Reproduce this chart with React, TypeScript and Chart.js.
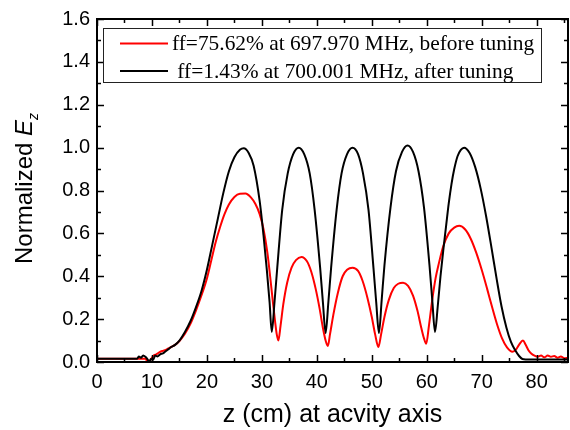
import React, { useEffect, useRef } from "react";
import { Chart, registerables } from "chart.js";

Chart.register(...registerables);

// ---- Axis settings ----
const X_MIN = 0;
const X_MAX = 85.7;
const Y_MIN = 0;
const Y_MAX = 1.6;
const X_MAJOR = 10;
const Y_MAJOR = 0.2;
const xTickValues = [0, 10, 20, 30, 40, 50, 60, 70, 80];
const yTickValues = [0, 0.2, 0.4, 0.6, 0.8, 1.0, 1.2, 1.4, 1.6];

// ---- Labels ----
const xTitle = "z (cm) at acvity axis";
const yTitleMain = "Normalized ";
const yTitleVar = "E";
const yTitleSub = "z";
const redLabel = "ff=75.62% at 697.970 MHz, before tuning";
const blackLabel = " ff=1.43% at 700.001 MHz, after tuning";

// ---- Before tuning (red) ----
const redZ = [
  0, 8.8, 9.1, 9.4, 9.8, 10.3, 10.8, 11.4, 12.0, 12.5, 13.0, 13.5, 14.2, 15.0, 16.0, 17.0, 18.0, 19.0,
  20.0, 20.8, 21.6, 22.4, 23.2, 24.0, 25.0, 26.0, 27.0, 28.0, 28.8, 29.6, 30.3, 31.0, 31.5, 32.0, 32.4,
  32.7, 33.0, 33.4, 33.9, 34.6, 35.4, 36.2, 37.2, 38.2, 39.0, 39.8, 40.5, 41.1, 41.6, 42.0, 42.4, 43.0,
  43.8, 44.7, 45.5, 46.5, 47.5, 48.3, 49.2, 50.0, 50.6, 51.2, 51.7, 52.3, 53.1, 54.0, 54.8, 55.7, 56.6,
  57.5, 58.3, 59.0, 59.5, 59.9, 60.4, 61.0, 61.6, 62.2, 63.0, 64.0, 65.0, 65.9, 67.0, 68.0, 69.0, 70.0,
  71.0, 71.9, 72.8, 73.7, 74.6, 75.6, 76.3, 76.9, 77.5, 78.0, 78.5, 79.0, 79.6, 80.2, 80.8, 81.4, 82.0,
  82.6, 83.2, 83.8, 84.4, 85.0, 85.7,
];
const redE = [
  0.015, 0.015, 0.006, 0.0, 0.012, 0.03, 0.036, 0.046, 0.052, 0.056, 0.064, 0.07, 0.08, 0.098, 0.132, 0.178, 0.24, 0.31,
  0.39, 0.475, 0.56, 0.63, 0.69, 0.735, 0.77, 0.785, 0.786, 0.768, 0.738, 0.69, 0.62, 0.51, 0.4, 0.28, 0.19,
  0.13, 0.1, 0.17, 0.27, 0.37, 0.44, 0.475, 0.49, 0.47, 0.42, 0.34, 0.25, 0.16, 0.1, 0.075, 0.13, 0.22,
  0.32, 0.4, 0.43, 0.44, 0.425, 0.38, 0.3, 0.21, 0.13, 0.07, 0.13, 0.21, 0.29, 0.345, 0.365, 0.37, 0.355,
  0.31, 0.24, 0.16, 0.11, 0.085, 0.17, 0.29, 0.39, 0.46, 0.54, 0.6, 0.627, 0.635, 0.618, 0.575, 0.51, 0.43,
  0.34, 0.255, 0.175, 0.11, 0.068, 0.048, 0.06, 0.085, 0.1, 0.08, 0.055, 0.04, 0.03, 0.025, 0.03, 0.022, 0.03,
  0.024, 0.028, 0.02, 0.026, 0.018, 0.02,
];

// ---- After tuning (black) ----
const blackZ = [
  0, 4, 7.3, 7.6, 8.0, 8.4, 8.8, 9.2, 9.5, 9.8, 10.2, 10.6, 11.0, 11.5, 12.0, 12.5, 13.0, 13.5, 14.2,
  15.0, 16.0, 17.0, 18.0, 19.0, 20.0, 21.0, 22.0, 23.0, 24.0, 25.0, 26.0, 26.7, 27.6, 28.5, 29.6, 30.3,
  30.9, 31.4, 31.8, 32.3, 32.8, 33.7, 34.7, 35.7, 36.7, 37.7, 38.7, 39.6, 40.6, 41.1, 41.6, 42.1, 42.6,
  43.6, 44.5, 45.5, 46.5, 47.5, 48.4, 49.4, 50.3, 50.8, 51.3, 51.8, 52.3, 53.4, 54.4, 55.5, 56.5, 57.5,
  58.5, 59.5, 60.5, 61.0, 61.5, 62.0, 62.5, 63.0, 63.5, 64.0, 64.5, 65.0, 65.6, 66.2, 66.8, 67.8, 68.8,
  69.8, 70.8, 71.8, 72.7, 73.6, 74.5, 75.3, 76.1, 76.8, 77.4, 78.0, 85.7,
];
const blackE = [
  0.015, 0.015, 0.015, 0.026, 0.02, 0.03, 0.024, 0.012, 0.0, 0.014, 0.01, 0.03, 0.026, 0.036, 0.04, 0.05, 0.06, 0.07, 0.08,
  0.1, 0.14, 0.19, 0.255, 0.33, 0.43, 0.55, 0.67, 0.79, 0.89, 0.955, 0.99, 0.997, 0.975, 0.915, 0.75, 0.59,
  0.43, 0.28, 0.14, 0.28, 0.44, 0.71, 0.88, 0.97, 1.0, 0.97, 0.88, 0.71, 0.44, 0.28, 0.135, 0.28, 0.44,
  0.71, 0.88, 0.97, 1.0, 0.97, 0.88, 0.71, 0.44, 0.28, 0.135, 0.29, 0.45, 0.72, 0.89, 0.98, 1.01, 0.98,
  0.89, 0.72, 0.45, 0.29, 0.14, 0.26, 0.4, 0.52, 0.63, 0.74, 0.83, 0.9, 0.96, 0.99, 1.0, 0.975, 0.91,
  0.81, 0.68, 0.53, 0.39, 0.26, 0.16, 0.095, 0.055, 0.028, 0.014, 0.012, 0.012,
];

const SANS = "'Liberation Sans', Arial, sans-serif";
const SERIF = "'Liberation Serif', 'Times New Roman', serif";

function zip(xs: number[], ys: number[]) {
  return xs.map((x, i) => ({ x, y: ys[i] }));
}

const framePlugin = {
  id: "frameTicksLegend",
  afterDraw(chart: any) {
    const { ctx, chartArea, scales } = chart;
    const { left, right, top, bottom } = chartArea;
    const xs = scales.x;
    const ys = scales.y;
    ctx.save();
    ctx.strokeStyle = "#000";
    ctx.lineWidth = 2;
    ctx.strokeRect(left, top, right - left, bottom - top);

    ctx.lineWidth = 1.5;
    ctx.beginPath();
    const nx = Math.floor((X_MAX - X_MIN) / (X_MAJOR / 2) + 1e-9);
    for (let i = 0; i <= nx; i++) {
      const v = X_MIN + (i * X_MAJOR) / 2;
      const px = Math.round(xs.getPixelForValue(v)) + 0.5;
      const len = i % 2 === 0 ? 7 : 4;
      ctx.moveTo(px, bottom);
      ctx.lineTo(px, bottom - len);
      ctx.moveTo(px, top);
      ctx.lineTo(px, top + len);
    }
    const ny = Math.round((Y_MAX - Y_MIN) / (Y_MAJOR / 2));
    for (let i = 0; i <= ny; i++) {
      const v = Y_MIN + (i * Y_MAJOR) / 2;
      const py = Math.round(ys.getPixelForValue(v)) + 0.5;
      const len = i % 2 === 0 ? 7 : 4;
      ctx.moveTo(left, py);
      ctx.lineTo(left + len, py);
      ctx.moveTo(right, py);
      ctx.lineTo(right - len, py);
    }
    ctx.stroke();

    // x title
    ctx.fillStyle = "#000";
    ctx.font = `25px ${SANS}`;
    ctx.textAlign = "center";
    ctx.textBaseline = "alphabetic";
    ctx.fillText(xTitle, (left + right) / 2, 422);

    // y title (rotated) with italic E and subscript z
    ctx.save();
    ctx.translate(32, (top + bottom) / 2 - 2);
    ctx.rotate(-Math.PI / 2);
    ctx.textAlign = "left";
    ctx.font = `24px ${SANS}`;
    const w1 = ctx.measureText(yTitleMain).width;
    ctx.font = `italic 24px ${SANS}`;
    const w2 = ctx.measureText(yTitleVar).width;
    ctx.font = `italic 14px ${SANS}`;
    const w3 = ctx.measureText(yTitleSub).width;
    let sx = -(w1 + w2 + w3) / 2;
    ctx.font = `24px ${SANS}`;
    ctx.fillText(yTitleMain, sx, 0);
    sx += w1;
    ctx.font = `italic 24px ${SANS}`;
    ctx.fillText(yTitleVar, sx, 0);
    sx += w2;
    ctx.font = `italic 14px ${SANS}`;
    ctx.fillText(yTitleSub, sx, 6);
    ctx.restore();

    // legend
    const bx = 103.5, by = 28.5, bw = 438, bh = 54;
    ctx.fillStyle = "#fff";
    ctx.fillRect(bx, by, bw, bh);
    ctx.strokeStyle = "#222";
    ctx.lineWidth = 1;
    ctx.strokeRect(bx, by, bw, bh);
    ctx.font = `21.4px ${SERIF}`;
    ctx.textAlign = "left";
    ctx.textBaseline = "middle";
    const rows = [43.5, 71];
    chart.data.datasets.forEach((ds: any, i: number) => {
      const yy = rows[i];
      ctx.strokeStyle = ds.borderColor;
      ctx.lineWidth = 2;
      ctx.beginPath();
      ctx.moveTo(120, yy);
      ctx.lineTo(168, yy);
      ctx.stroke();
      ctx.fillStyle = "#000";
      ctx.fillText(ds.label, 172, yy + 1);
    });
    ctx.restore();
  },
};

export default function App() {
  const ref = useRef<HTMLCanvasElement>(null);
  useEffect(() => {
    if (!ref.current) return;
    const chart = new Chart(ref.current, {
      type: "line",
      data: {
        datasets: [
          {
            label: redLabel,
            data: zip(redZ, redE),
            borderColor: "#ff0000",
            borderWidth: 2,
            pointRadius: 0,
            cubicInterpolationMode: "monotone",
            fill: false,
            order: 1,
          },
          {
            label: blackLabel,
            data: zip(blackZ, blackE),
            borderColor: "#000000",
            borderWidth: 2,
            pointRadius: 0,
            cubicInterpolationMode: "monotone",
            fill: false,
            order: 0,
          },
        ],
      },
      options: {
        animation: false,
        responsive: false,
        events: [],
        layout: { padding: { left: 0, right: 2, top: 15, bottom: 0 } },
        plugins: { legend: { display: false }, tooltip: { enabled: false } },
        scales: {
          x: {
            type: "linear",
            min: X_MIN,
            max: X_MAX,
            grid: { display: false, drawTicks: false, tickLength: 0 },
            border: { display: false },
            afterBuildTicks: (s: any) => {
              s.ticks = xTickValues.map((v) => ({ value: v }));
            },
            ticks: {
              color: "#000",
              font: { family: SANS, size: 20 },
              padding: 8,
              maxRotation: 0,
              autoSkip: false,
              callback: (v: any) => String(Math.round(Number(v))),
            },
            afterFit: (s: any) => {
              s.height = 68;
            },
          },
          y: {
            type: "linear",
            min: Y_MIN,
            max: Y_MAX,
            grid: { display: false, drawTicks: false, tickLength: 0 },
            border: { display: false },
            afterBuildTicks: (s: any) => {
              s.ticks = yTickValues.map((v) => ({ value: v }));
            },
            ticks: {
              color: "#000",
              font: { family: SANS, size: 20 },
              padding: 7,
              autoSkip: false,
              callback: (v: any) => Number(v).toFixed(1),
            },
            afterFit: (s: any) => {
              s.width = 97;
            },
          },
        },
      },
      plugins: [framePlugin],
    });
    return () => chart.destroy();
  }, []);
  return (
    <div style={{ position: "absolute", left: 0, top: 0, width: 570, height: 430, background: "#fff" }}>
      <canvas ref={ref} width={570} height={430} style={{ display: "block" }} />
    </div>
  );
}
